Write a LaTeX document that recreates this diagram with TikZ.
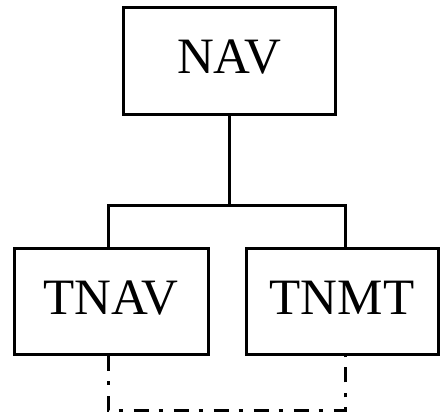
\documentclass[tikz,border=0pt]{standalone}
\usepackage{fontspec}
\setmainfont{Liberation Serif}

\begin{document}
\begin{tikzpicture}[x=1pt, y=-1pt, line width=3pt,
  unit/.style={draw, inner sep=0pt, text depth=9pt, font=\fontsize{51}{60}\selectfont},
  dashdot/.style={dash pattern=on 15pt off 10pt on 4pt off 11pt}]

\useasboundingbox (0,0) rectangle (440,414);

\node [unit, minimum width=212pt, minimum height=107pt] (nav) at (229,61.5) {NAV};
\node [unit, minimum width=194pt, minimum height=106pt] (tnav) at (111,302) {TNAV};
\node [unit, minimum width=192pt, minimum height=106pt] (tnmt) at (342,302) {TNMT};

\coordinate (split) at (229,206);
\coordinate (ltop) at (108,206);
\coordinate (rtop) at (345,206);
\coordinate (lbot) at (108,411);
\coordinate (rbot) at (345,411);

\draw (nav.south) -- (split);
\draw (ltop |- tnav.north) -- (ltop) -- (rtop) -- (rtop |- tnmt.north);

\draw [dashdot] (ltop |- tnav.south) -- (lbot) -- (rbot) -- (rtop |- tnmt.south);

\end{tikzpicture}
\end{document}
